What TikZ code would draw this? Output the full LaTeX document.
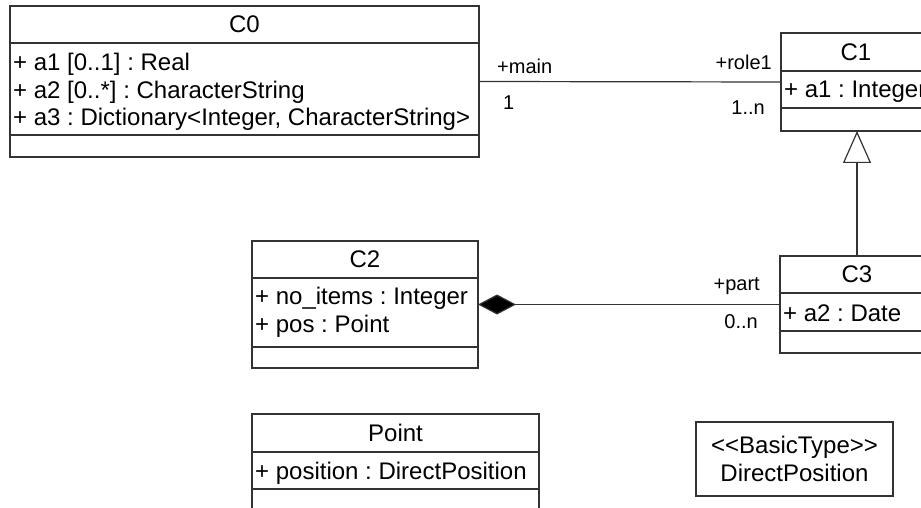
\documentclass[tikz,border=0pt]{standalone}
\usepackage{fontspec}
\setmainfont{Liberation Sans}
\usetikzlibrary{arrows.meta,calc}
\definecolor{ln}{HTML}{333333}
\newcommand\clsfont{\fontsize{24}{27.5}\selectfont\frenchspacing}
\newcommand\rolefont{\fontsize{20}{24}\selectfont\frenchspacing}
\begin{document}
\frenchspacing
\begin{tikzpicture}[x=1pt,y=-1pt,
  box/.style={draw=ln, line width=1.2pt, inner sep=0pt, outer sep=0pt, anchor=north west},
  ctext/.style={font=\clsfont, inner sep=0pt},
  atext/.style={font=\clsfont, inner sep=0pt, anchor=west, align=left},
  rtext/.style={font=\rolefont, inner sep=0pt},
  sep/.style={draw=ln, line width=1.2pt},
  conn/.style={draw=ln, line width=1.2pt}]
\useasboundingbox (0,0) rectangle (921,508);
\fill[white] (0,0) rectangle (921,508);

% C0
\node[box, minimum width=469pt, minimum height=151pt] (c0) at (10,6) {};
\draw[sep] (10,43) -- (479,43);
\draw[sep] (10,135) -- (479,135);
\node[ctext] (c0name) at (244.5,24.5) {C0};
\node[atext] (c0attr) at (13,92) {+ a1 [0..1] : Real\\+ a2 [0..*] : CharacterString\\+ a3 : Dictionary<Integer, CharacterString>};

% C1
\node[box, minimum width=150pt, minimum height=98pt] (c1) at (781,33) {};
\draw[sep] (781,71) -- (931,71);
\draw[sep] (781,108) -- (931,108);
\node[ctext] (c1name) at (856,52) {C1};
\node[atext] (c1attr) at (784,91.5) {+ a1 : Integer};

% C3
\node[box, minimum width=154pt, minimum height=97pt] (c3) at (780,256) {};
\draw[sep] (780,293) -- (934,293);
\draw[sep] (780,331) -- (934,331);
\node[ctext] (c3name) at (857,274.5) {C3};
\node[atext] (c3attr) at (783,313) {+ a2 : Date};

% C2
\node[box, minimum width=226pt, minimum height=127pt] (c2) at (252,241) {};
\draw[sep] (252,278) -- (478,278);
\draw[sep] (252,347) -- (478,347);
\node[ctext] (c2name) at (365,259.5) {C2};
\node[atext] (c2attr) at (255,312.5) {+ no\_items : Integer\\+ pos : Point};

% Point
\node[box, minimum width=287pt, minimum height=98pt] (pt) at (252,414) {};
\draw[sep] (252,452) -- (539,452);
\draw[sep] (252,489) -- (539,489);
\node[ctext] (ptname) at (395.5,433) {Point};
\node[atext] (ptattr) at (255,473) {+ position : DirectPosition};

% DirectPosition
\node[box, minimum width=197pt, minimum height=74pt] (dp) at (696,422) {};
\node[ctext, align=center] (dptext) at (dp.center) {<{}<BasicType>{}>\\DirectPosition};

% association C0 - C1
\draw[conn] (c0.east) -- (c1.west);
\node[rtext, anchor=west] (r1) at (497,66) {+main};
\node[rtext, anchor=west] (m1) at (503,103) {1};
\node[rtext, anchor=east] (r2) at (772,62) {+role1};
\node[rtext, anchor=east] (m2) at (765,108) {1..n};

% composition C2 - C3
\draw[conn, {Diamond[length=38pt,width=20pt,fill=black]}-] (c2.east) -- (c3.west);
\node[rtext, anchor=east] (r3) at (760,286) {+part};
\node[rtext, anchor=east] (m3) at (758,322) {0..n};

% generalization C3 -> C1
\draw[conn, -{Triangle[open,length=32pt,width=28pt,fill=white]}] (c3.north) -- (c3.north |- c1.south);
\end{tikzpicture}
\end{document}
